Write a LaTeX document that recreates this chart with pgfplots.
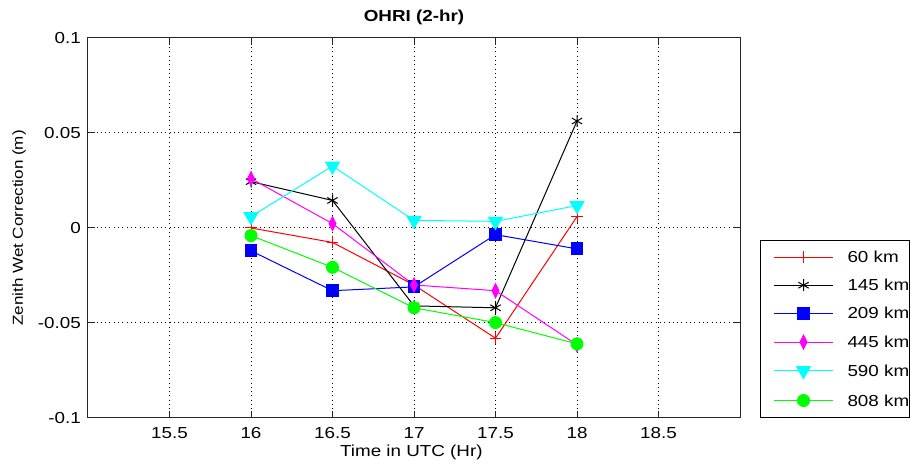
\documentclass[border=0pt]{standalone}
\usepackage{pgfplots}
\pgfplotsset{compat=1.18}
\usepackage{fontspec}
\setmainfont{Liberation Sans}[FakeStretch=1.18]
\definecolor{mred}{RGB}{255,0,0}
\definecolor{mblue}{RGB}{0,0,255}
\definecolor{mmag}{RGB}{255,0,255}
\definecolor{mcyan}{RGB}{0,255,255}
\definecolor{mgreen}{RGB}{0,255,0}
\begin{document}
\begin{tikzpicture}[x=1bp,y=1bp]
\useasboundingbox (-88,-56) rectangle (822,418);
\begin{axis}[
  at={(0,0)}, anchor=south west,
  scale only axis, width=652bp, height=380bp,
  xmin=15, xmax=19, ymin=-0.1, ymax=0.1,
  xtick={15.5,16,16.5,17,17.5,18,18.5},
  xticklabels={15.5,16,16.5,17,17.5,18,18.5},
  ytick={-0.1,-0.05,0,0.05,0.1},
  yticklabels={-0.1,-0.05,0,0.05,0.1},
  tick align=inside, tick pos=both,
  major tick length=7bp,
  grid=major, grid style={black, line width=1bp, dash pattern=on 1bp off 3.3bp},
  axis line style={black!85, line width=1bp},
  every tick/.style={black!85, line width=1bp},
  tick label style={font=\fontsize{16}{18}\selectfont, inner sep=0bp},
  xticklabel style={anchor=base, yshift=-21bp},
  yticklabel style={anchor=east, xshift=-7bp},
  /pgf/number format/assume math mode=true,
  title={\bfseries OHRI (2-hr)},
  title style={font=\fontsize{16}{18}\selectfont, at={(axis description cs:0.5,1.0421)}, anchor=base, inner sep=0bp, yshift=-5bp},
  xlabel={Time in UTC (Hr)},
  ylabel={Zenith Wet Correction (m)},
  label style={inner sep=0bp},
  xlabel style={font=\fontsize{16}{18}\selectfont, at={(axis description cs:0.496,-0.0921)}, anchor=base, yshift=-4bp},
  ylabel style={font=\fontsize{14.5}{16}\selectfont, at={(axis description cs:-0.1058,0.5)}, anchor=center},
  legend style={at={(1.0307,0.0)}, anchor=south west, draw=black, line width=1bp,
    font=\fontsize{16}{18}\selectfont, row sep=16bp, column sep=6bp,
    inner xsep=0bp, inner ysep=11bp,
    nodes={inner sep=0bp, text height=11bp, text depth=0bp},
    cells={anchor=west}},
  legend image code/.code={\path (0bp,0bp) (80bp,0bp);\draw[mark repeat=2,mark phase=2,#1] plot coordinates {(13bp,0bp) (42.5bp,0bp) (72bp,0bp)};},
  every axis plot/.append style={line width=1bp},
]
\addplot[color=mred, mark=+, mark size=6pt] coordinates {(16,0) (16.5,-0.0076) (17,-0.030) (17.5,-0.058) (18,0.006)};
\addlegendentry{60 km}
\addplot[color=black, mark=asterisk, mark size=6pt] coordinates {(16,0.0244) (16.5,0.0145) (17,-0.041) (17.5,-0.042) (18,0.0563)};
\addlegendentry{145 km}
\addplot[color=mblue, mark=square*, mark size=6pt] coordinates {(16,-0.012) (16.5,-0.033) (17,-0.031) (17.5,-0.0035) (18,-0.011)};
\addlegendentry{209 km}
\addplot[color=mmag, mark=diamond*, mark size=7pt, mark options={xscale=0.66}] coordinates {(16,0.026) (16.5,0.0023) (17,-0.030) (17.5,-0.033) (18,-0.0615)};
\addlegendentry{445 km}
\addplot[color=mcyan, mark=triangle*, mark size=8pt, mark options={rotate=180}] coordinates {(16,0.006) (16.5,0.0326) (17,0.004) (17.5,0.0035) (18,0.0118)};
\addlegendentry{590 km}
\addplot[color=mgreen, mark=*, mark size=6pt] coordinates {(16,-0.004) (16.5,-0.0207) (17,-0.042) (17.5,-0.0498) (18,-0.061)};
\addlegendentry{808 km}
\end{axis}
\end{tikzpicture}
\end{document}
